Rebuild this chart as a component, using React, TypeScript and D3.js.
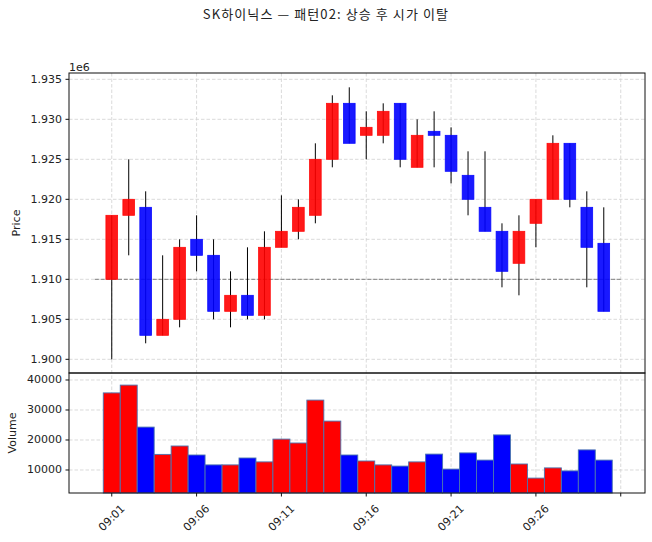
import React from 'react';
import * as d3 from 'd3';

// 1분봉, 09:01 ~ 09:30
const minutes = [
  '09:01', '09:02', '09:03', '09:04', '09:05', '09:06', '09:07', '09:08', '09:09', '09:10',
  '09:11', '09:12', '09:13', '09:14', '09:15', '09:16', '09:17', '09:18', '09:19', '09:20',
  '09:21', '09:22', '09:23', '09:24', '09:25', '09:26', '09:27', '09:28', '09:29', '09:30',
];
const opens = [
  1910000, 1918000, 1919000, 1903000, 1905000, 1915000, 1913000, 1906000, 1908000, 1905500,
  1914000, 1916000, 1918000, 1925000, 1932000, 1928000, 1928000, 1932000, 1924000, 1928500,
  1928000, 1923000, 1919000, 1916000, 1912000, 1917000, 1920000, 1927000, 1919000, 1914500,
];
const highs = [
  1918000, 1925000, 1921000, 1913000, 1915000, 1918000, 1915000, 1911000, 1914000, 1916000,
  1920500, 1920000, 1927000, 1933000, 1934000, 1931000, 1932000, 1932000, 1930000, 1931000,
  1929000, 1926000, 1926000, 1917000, 1918000, 1920000, 1928000, 1927000, 1921000, 1919000,
];
const lows = [
  1900000, 1913000, 1902000, 1903000, 1904000, 1911000, 1905000, 1904000, 1905000, 1905000,
  1914000, 1915000, 1917000, 1924000, 1927000, 1925000, 1927000, 1924000, 1924000, 1924000,
  1922000, 1918000, 1916000, 1909000, 1908000, 1914000, 1920000, 1919000, 1909000, 1906000,
];
const closes = [
  1918000, 1920000, 1903000, 1905000, 1914000, 1913000, 1906000, 1908000, 1905500, 1914000,
  1916000, 1919000, 1925000, 1932000, 1927000, 1929000, 1931000, 1925000, 1928000, 1928000,
  1923500, 1920000, 1916000, 1911000, 1916000, 1920000, 1927000, 1920000, 1914000, 1906000,
];
const volumes = [
  35700, 38300, 24300, 15200, 18000, 15000, 11700, 11700, 14000, 12700,
  20300, 19000, 33300, 26300, 15000, 13000, 11700, 11300, 12700, 15300,
  10300, 15700, 13300, 21700, 12000, 7300, 10700, 9700, 16700, 13300,
];
const openRef = 1910000; // 시가 기준선

const xTickLabels = ['09:01', '09:06', '09:11', '09:16', '09:21', '09:26', ''];
const priceTicks = [1900000, 1905000, 1910000, 1915000, 1920000, 1925000, 1930000, 1935000];
const volumeTicks = [10000, 20000, 30000, 40000];

const W = 652;
const H = 542;
const left = 69;
const right = 645;
const priceTop = 73;
const priceBottom = 373;
const volBottom = 493;

const UP = '#ff0000';
const DOWN = '#0000ff';
const tickFont = 'DejaVu Sans, Noto Sans CJK KR, sans-serif';

const App = () => {
  const x = d3.scaleLinear().domain([-2.52, 31.43]).range([left, right]);
  const y = d3.scaleLinear().domain([1898290, 1935790]).range([priceBottom, priceTop]);
  const yv = d3.scaleLinear().domain([2333, 42333]).range([volBottom, priceBottom]);
  const step = x(1) - x(0);
  const bodyW = step * 0.69;
  const xTickIdx = xTickLabels.map((_, i) => i * 5);

  return (
    <svg width={W} height={H} style={{ position: 'absolute', left: 0, top: 0, background: '#fff' }}>
      <text x={326} y={19} textAnchor="middle" fontSize={13} letterSpacing={1.1} fontFamily="Noto Sans CJK KR, sans-serif" fill="#222">
        SK하이닉스 — 패턴02: 상승 후 시가 이탈
      </text>

      {/* grid */}
      <g stroke="#d0d0d0" strokeWidth={0.8} strokeDasharray="3.5,2">
        {xTickIdx.map((i) => (
          <line key={'gx' + i} x1={x(i)} x2={x(i)} y1={priceTop} y2={volBottom} />
        ))}
        {priceTicks.map((t) => (
          <line key={'gp' + t} x1={left} x2={right} y1={y(t)} y2={y(t)} />
        ))}
        {volumeTicks.map((t) => (
          <line key={'gv' + t} x1={left} x2={right} y1={yv(t)} y2={yv(t)} />
        ))}
      </g>

      {/* 시가 기준선 */}
      <line x1={x(-1)} x2={x(30)} y1={y(openRef)} y2={y(openRef)} stroke="#808080" strokeWidth={1} strokeDasharray="4,1.8" />

      {/* candles */}
      {minutes.map((m, i) => {
        const up = closes[i] >= opens[i];
        const c = up ? UP : DOWN;
        const top = y(Math.max(opens[i], closes[i]));
        const bot = y(Math.min(opens[i], closes[i]));
        return (
          <g key={m}>
            <line x1={x(i)} x2={x(i)} y1={y(highs[i])} y2={y(lows[i])} stroke="#000" strokeWidth={1} />
            <rect
              x={x(i) - bodyW / 2}
              y={top}
              width={bodyW}
              height={Math.max(bot - top, 0.5)}
              fill={c}
              fillOpacity={0.9}
              stroke={c}
              strokeOpacity={0.9}
              strokeWidth={0.8}
            />
          </g>
        );
      })}

      {/* volume */}
      {minutes.map((m, i) => {
        const up = closes[i] >= opens[i];
        return (
          <rect
            key={'v' + m}
            x={x(i) - step / 2}
            y={yv(volumes[i])}
            width={step}
            height={volBottom - yv(volumes[i])}
            fill={up ? UP : DOWN}
            stroke="#4a74b0"
            strokeWidth={0.9}
          />
        );
      })}

      {/* frames */}
      <g fill="none" stroke="#111" strokeWidth={1}>
        <rect x={left} y={priceTop} width={right - left} height={priceBottom - priceTop} />
        <rect x={left} y={priceBottom} width={right - left} height={volBottom - priceBottom} />
      </g>

      {/* price axis */}
      <g fontFamily={tickFont} fontSize={11} fill="#222">
        {priceTicks.map((t) => (
          <g key={'pt' + t}>
            <line x1={left - 3.5} x2={left} y1={y(t)} y2={y(t)} stroke="#111" />
            <text x={left - 7} y={y(t)} textAnchor="end" dominantBaseline="central">
              {(t / 1e6).toFixed(3)}
            </text>
          </g>
        ))}
        <text x={left} y={70.5}>1e6</text>
        <text transform={`translate(16,${(priceTop + priceBottom) / 2}) rotate(-90)`} textAnchor="middle" dominantBaseline="central">
          Price
        </text>
      </g>

      {/* volume axis */}
      <g fontFamily={tickFont} fontSize={11} fill="#222">
        {volumeTicks.map((t) => (
          <g key={'vt' + t}>
            <line x1={left - 3.5} x2={left} y1={yv(t)} y2={yv(t)} stroke="#111" />
            <text x={left - 7} y={yv(t)} textAnchor="end" dominantBaseline="central">
              {t}
            </text>
          </g>
        ))}
        <text transform={`translate(12,${(priceBottom + volBottom) / 2}) rotate(-90)`} textAnchor="middle" dominantBaseline="central">
          Volume
        </text>
      </g>

      {/* time axis */}
      <g fontFamily={tickFont} fontSize={11} fill="#222">
        {xTickLabels.map((lab, k) => (
          <g key={'xt' + k}>
            <line x1={x(k * 5)} x2={x(k * 5)} y1={volBottom} y2={volBottom + 3.5} stroke="#111" />
            {lab && (
              <text transform={`translate(${x(k * 5)},518) rotate(-45)`} textAnchor="middle" dominantBaseline="central">
                {lab}
              </text>
            )}
          </g>
        ))}
      </g>
    </svg>
  );
};

export default App;
